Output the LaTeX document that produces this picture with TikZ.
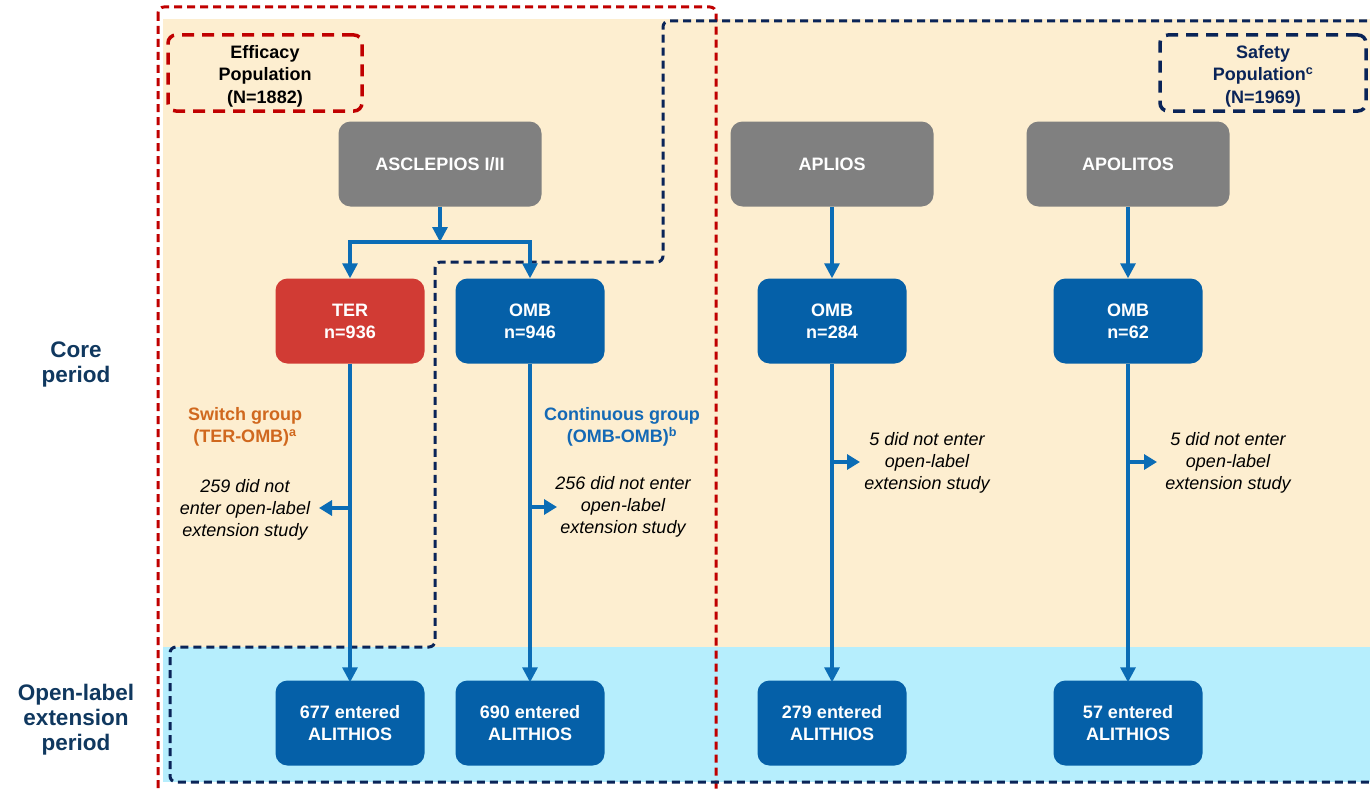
\documentclass[tikz,border=0pt]{standalone}
\usepackage{fontspec}
\setmainfont{Liberation Sans}
\usetikzlibrary{arrows.meta}
\definecolor{cream}{HTML}{FDEED0}
\definecolor{bandblue}{HTML}{B6EEFD}
\definecolor{boxgray}{HTML}{808080}
\definecolor{boxred}{HTML}{D13B34}
\definecolor{boxblue}{HTML}{0560A8}
\definecolor{arrowblue}{HTML}{0B6CB5}
\definecolor{effred}{HTML}{C00000}
\definecolor{safenavy}{HTML}{0A2458}
\definecolor{switchorange}{HTML}{D0681E}
\definecolor{contblue}{HTML}{1469B5}
\definecolor{labelnavy}{HTML}{10385F}
\begin{document}
\begin{tikzpicture}[x=1pt,y=-1pt,
  box/.style={rounded corners=12pt, minimum width=149pt, minimum height=85pt, align=center,
    text=white, font=\bfseries\fontsize{18}{22}\selectfont, inner sep=0pt},
  graybox/.style={box, fill=boxgray, minimum width=203pt},
  bluebox/.style={box, fill=boxblue},
  redbox/.style={box, fill=boxred},
  arr/.style={draw=arrowblue, line width=3.2pt, -{Triangle[width=15pt,length=15pt]}},
  sidearr/.style={draw=arrowblue, line width=3.2pt, -{Triangle[width=15pt,length=13pt]}},
  note/.style={align=center, font=\itshape\fontsize{18}{22}\selectfont, text=black},
  grouplbl/.style={align=center, font=\bfseries\fontsize{18}{22}\selectfont},
  periodlbl/.style={align=center, text=labelnavy, font=\bfseries\fontsize{22.5}{25}\selectfont},
  reddash/.style={draw=effred, line width=3pt, dash pattern=on 8pt off 5pt, rounded corners=6pt},
  navydash/.style={draw=safenavy, line width=3pt, dash pattern=on 8pt off 5pt, rounded corners=6pt},
  popbox/.style={line width=3.5pt, dash pattern=on 12pt off 8pt, rounded corners=8pt,
    minimum width=194pt, minimum height=76pt, align=center, inner sep=0pt,
    font=\bfseries\fontsize{18}{22.5}\selectfont}
]
\useasboundingbox (0,0) rectangle (1370,792);
% backgrounds
\fill[cream] (163,19) rectangle (1370,647);
\fill[bandblue] (163,647) rectangle (1370,782);

% population outlines
\draw[reddash] (158,7) rectangle (716,820);
\draw[navydash] (1380,21) -- (663,21) -- (663,262) -- (435,262) -- (435,647) -- (170,647) -- (170,782) -- (1380,782);

\node[popbox, draw=effred, text=black] (eff) at (265,73) {};
\node[align=center, font=\bfseries\fontsize{18}{22.5}\selectfont, text=black] (efftxt) at (265,76) {Efficacy\\Population\\(N=1882)};
\node[popbox, draw=safenavy, minimum width=206pt] (safe) at (1263,73) {};
\node[align=center, font=\bfseries\fontsize{18}{22.5}\selectfont, text=safenavy] (safetxt) at (1263,76) {Safety\\Population\textsuperscript{c}\\(N=1969)};

% period labels
\node[periodlbl] (core) at (76,364) {Core\\period};
\node[periodlbl] (ole) at (76,720) {Open-label\\extension\\period};

% study boxes
\node[graybox] (asc) at (440,164) {ASCLEPIOS I/II};
\node[graybox] (apl) at (832,164) {APLIOS};
\node[graybox] (apo) at (1128,164) {APOLITOS};

% core boxes
\node[redbox] (ter) at (350,321) {TER\\n=936};
\node[bluebox] (omb1) at (530,321) {OMB\\n=946};
\node[bluebox] (omb2) at (832,321) {OMB\\n=284};
\node[bluebox] (omb3) at (1128,321) {OMB\\n=62};

% extension boxes
\node[bluebox] (e1) at (350,723) {677 entered\\ALITHIOS};
\node[bluebox] (e2) at (530,723) {690 entered\\ALITHIOS};
\node[bluebox] (e3) at (832,723) {279 entered\\ALITHIOS};
\node[bluebox] (e4) at (1128,723) {57 entered\\ALITHIOS};

% group labels
\node[grouplbl, text=switchorange] (sw) at (245,427) {Switch group\\(TER-OMB)\textsuperscript{a}};
\node[grouplbl, text=contblue] (cont) at (622,427) {Continuous group\\(OMB-OMB)\textsuperscript{b}};

% notes
\node[note] (n1) at (245,510) {259 did not\\enter open-label\\extension study};
\node[note] (n2) at (623,507) {256 did not enter\\open-label\\extension study};
\node[note] (n3) at (927,463) {5 did not enter\\open-label\\extension study};
\node[note] (n4) at (1228,463) {5 did not enter\\open-label\\extension study};

% connectors
\coordinate (j) at (440,242);
\draw[arr] (asc.south) -- (j);
\draw[arr] (j) -| (ter.north);
\draw[arr] (j) -| (omb1.north);
\draw[arr] (apl.south) -- (omb2.north);
\draw[arr] (apo.south) -- (omb3.north);

\draw[arr] (ter.south) -- ([yshift=-2pt]e1.north);
\draw[arr] (omb1.south) -- ([yshift=-2pt]e2.north);
\draw[arr] (omb2.south) -- ([yshift=-2pt]e3.north);
\draw[arr] (omb3.south) -- ([yshift=-2pt]e4.north);

\coordinate (b1) at (350,508); \coordinate (t1) at (319,508);
\coordinate (b2) at (530,507); \coordinate (t2) at (557,507);
\coordinate (b3) at (832,462); \coordinate (t3) at (860,462);
\coordinate (b4) at (1128,462); \coordinate (t4) at (1157,462);
\draw[sidearr] (b1) -- (t1);
\draw[sidearr] (b2) -- (t2);
\draw[sidearr] (b3) -- (t3);
\draw[sidearr] (b4) -- (t4);
\end{tikzpicture}
\end{document}
